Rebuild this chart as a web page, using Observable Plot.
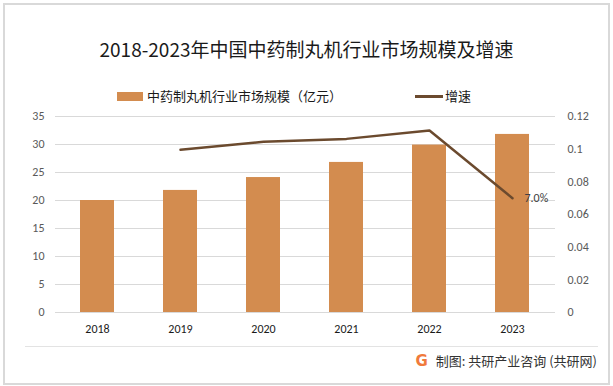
<!DOCTYPE html>
<html>
<head>
<meta charset="utf-8">
<script src="https://cdn.jsdelivr.net/npm/d3@7"></script>
<script src="https://cdn.jsdelivr.net/npm/@observablehq/plot@0.6"></script>
<style>
  html, body { margin: 0; padding: 0; background: #fff; }
  #wrap { position: relative; width: 613px; height: 386px; overflow: hidden; font-family: "Noto Sans CJK SC", "Noto Sans", sans-serif; }
  #frame { position: absolute; left: 3px; top: 3px; width: 603px; height: 378px; border: 2px solid #d9d9d9; box-sizing: content-box; }
  #title { position: absolute; left: 0; width: 613px; top: 36px; text-align: center; font-size: 19px; color: #1a1a1a; line-height: 26px; }
  .leg { position: absolute; top: 87px; font-size: 13px; color: #1a1a1a; line-height: 18px; display: flex; align-items: center; }
  .sw { display: inline-block; margin-right: 4px; }
  #chart { position: absolute; left: 0; top: 100px; }
  #sep { position: absolute; left: 25px; width: 573px; top: 346px; height: 1px; background: #e3e3e3; }
  #cap { position: absolute; right: 16px; top: 352px; font-size: 13px; color: #333; line-height: 18px; display: flex; align-items: center; }
  #logo { color: #f07a3c; font-weight: bold; font-size: 15px; margin-right: 8px; font-family: "DejaVu Sans", sans-serif; }
</style>
</head>
<body>
<div id="wrap">
  <div id="frame"></div>
  <div id="title">2018-2023年中国中药制丸机行业市场规模及增速</div>
  <div class="leg" style="left:117px"><span class="sw" style="width:26px;height:9px;background:#d38c4f"></span>中药制丸机行业市场规模（亿元）</div>
  <div class="leg" style="left:415px"><span class="sw" style="width:28px;height:3px;background:#6b4a2e;margin-right:2px"></span>增速</div>
  <div id="chart"></div>
  <div id="sep"></div>
  <div id="cap"><span id="logo">G</span>制图: 共研产业咨询 (共研网)</div>
</div>
<script>
const years = ["2018", "2019", "2020", "2021", "2022", "2023"];
const marketSize = [20.0, 21.8, 24.1, 26.8, 29.9, 31.8];
const growthYears = ["2019", "2020", "2021", "2022", "2023"];
const growthRate = [0.0996, 0.1045, 0.1063, 0.1114, 0.070];
const leftTicks = [0, 5, 10, 15, 20, 25, 30, 35];
const rightTicks = [0, 0.02, 0.04, 0.06, 0.08, 0.1, 0.12];
const leftMax = 35, rightMax = 0.12;

const bars = years.map((y, i) => ({year: y, value: marketSize[i]}));
const growth = growthYears.map((y, i) => ({year: y, rate: growthRate[i], scaled: growthRate[i] / rightMax * leftMax}));
const last = growth[growth.length - 1];

const chart = Plot.plot({
  width: 613,
  height: 242,
  marginTop: 16,
  marginBottom: 30,
  marginLeft: 55,
  marginRight: 58,
  style: {fontFamily: "Calibri, 'Liberation Sans', 'Noto Sans', sans-serif", fontSize: "12px", background: "transparent"},
  x: {domain: years, paddingInner: 0.59, paddingOuter: 0.295, label: null},
  y: {domain: [0, leftMax], label: null},
  marks: [
    Plot.gridY(leftTicks, {stroke: "#d9d9d9", strokeOpacity: 1, strokeWidth: 1}),
    Plot.axisY(leftTicks, {anchor: "left", tickSize: 0, tickPadding: 11, label: null, fill: "#595959", fontSize: 12}),
    Plot.axisY(rightTicks.map(t => t / rightMax * leftMax), {anchor: "right", tickSize: 0, tickPadding: 12, label: null, fill: "#595959", fontSize: 12, tickFormat: d => String(+(d / leftMax * rightMax).toFixed(2))}),
    Plot.axisX({tickSize: 0, tickPadding: 12, label: null, fill: "#1a1a1a", fontSize: 12}),
    Plot.barY(bars, {x: "year", y: "value", fill: "#d38c4f"}),
    Plot.line(growth, {x: "year", y: "scaled", stroke: "#6b4a2e", strokeWidth: 2.5}),
    Plot.text([last], {x: "year", y: "scaled", text: d => (d.rate * 100).toFixed(1) + "%", dx: 12, textAnchor: "start", fill: "#404040", fontSize: 12})
  ]
});
document.getElementById("chart").appendChild(chart);
</script>
</body>
</html>
